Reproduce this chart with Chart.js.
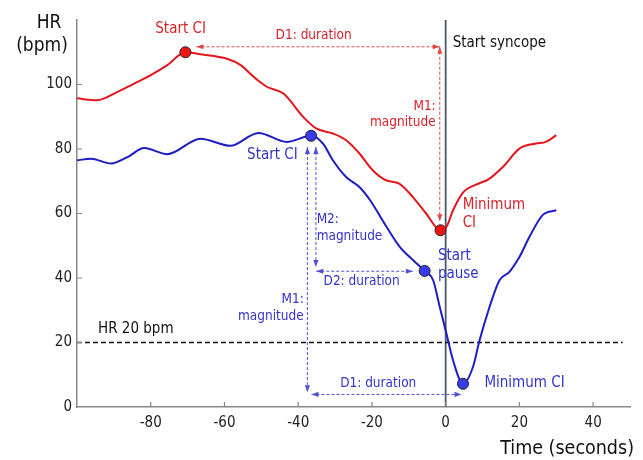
<!DOCTYPE html>
<html>
<head>
<meta charset="utf-8">
<script src="https://cdn.jsdelivr.net/npm/chart.js@4.4.1/dist/chart.umd.min.js"></script>
<style>
html, body { margin: 0; padding: 0; background: #fff; }
#wrap { width: 643px; height: 460px; position: relative; }
</style>
</head>
<body>
<div id="wrap"><canvas id="hrChart"></canvas></div>
<script>
/* DATA */
const redX = [-100, -94.6, -89, -84.5, -80, -75.5, -70.6, -66.5, -59.3, -55.6, -52.1, -48.5, -44, -38.6, -35, -30.6, -27, -23.4, -19.8, -16.2, -12.6, -8.9, -5.3, -1.4, 0.2, 2, 4.7, 9, 11.5, 15.5, 20, 24.5, 27.2, 30];
const redY = [95.7, 95.1, 97.7, 100.3, 102.9, 106, 110, 109.4, 108, 106, 102.4, 99.3, 97.2, 89.9, 86.3, 84.8, 82.7, 78.6, 73.4, 70.3, 69.3, 65.1, 60, 54.8, 55.8, 61, 66.5, 69.3, 70.5, 74.4, 80.1, 81.7, 82.2, 84.3];
const blueX = [-100, -96.2, -90.8, -86.3, -81.8, -75.5, -66.5, -58.4, -50.8, -43.1, -36.5, -33.3, -30.6, -27, -23.4, -20.5, -16, -12.4, -8.8, -5.7, -3.4, -1.6, 0.2, 2, 4.7, 7.4, 9.2, 11.9, 14.6, 17.3, 20, 22.7, 26.3, 30];
const blueY = [76.5, 77, 75.5, 77.5, 80.3, 78.4, 83.2, 81, 85, 82.2, 84.1, 81.7, 76.5, 71.3, 68.2, 64.1, 55.8, 49.6, 45.5, 42.2, 39.3, 31, 22.8, 14.5, 7.2, 12.4, 20.7, 31, 39.3, 41.9, 46.5, 52.7, 59.5, 61];

const redMarkX = [-70.6, -1.4];
const redMarkY = [110, 54.8];
const blueMarkX = [-36.5, -5.7, 4.7];
const blueMarkY = [84.1, 42.2, 7.2];

const xTicks = [-80, -60, -40, -20, 0, 20, 40];
const yTicks = [0, 20, 40, 60, 80, 100];
const thresholdY = 20;
const thresholdX = [-100, 48];
const syncopeX = 0;

/* STYLE */
const FONT = '"DejaVu Sans Condensed", "DejaVu Sans", sans-serif';
const RED = "#e3161d";
const BLUE = "#1d1dc2";
const RED_TXT = "#d8232a";
const BLUE_TXT = "#3535c9";
const RED_DASH = "#e04848";
const BLUE_DASH = "#5050d6";

/* ANNOTATIONS (data units) */
const arrows = [
    { c: RED_DASH, x: [-67.6, -1.6], y: [111.7, 111.7] },
    { c: RED_DASH, x: [-1.6, -1.6], y: [111.7, 57.6] },
    { c: BLUE_DASH, x: [-37.5, -37.5], y: [80.6, 4.6] },
    { c: BLUE_DASH, x: [-35.2, -35.2], y: [80.6, 43.4] },
    { c: BLUE_DASH, x: [-35.1, -8.9], y: [42.1, 42.1] },
    { c: BLUE_DASH, x: [-36.4, 4.3], y: [3.9, 3.9] }
];

const notes = [
    { t: "Start CI", x: -71.9, y: 117.2, c: RED_TXT, a: "center", s: 15 },
    { t: "D1: duration", x: -35.8, y: 115.3, c: RED_TXT, a: "center", s: 13.5 },
    { t: "M1:", x: -2.7, y: 93.3, c: RED_TXT, a: "right", s: 13.5 },
    { t: "magnitude", x: -2.7, y: 88.2, c: RED_TXT, a: "right", s: 13.5 },
    { t: "Start syncope", x: 1.9, y: 112.7, c: "#111", a: "left", s: 15 },
    { t: "Minimum", x: 4.6, y: 62.6, c: RED_TXT, a: "left", s: 15 },
    { t: "CI", x: 4.6, y: 57.1, c: RED_TXT, a: "left", s: 15 },
    { t: "Start CI", x: -47, y: 78.1, c: BLUE_TXT, a: "center", s: 15 },
    { t: "M2:", x: -35, y: 58, c: BLUE_TXT, a: "left", s: 13.5 },
    { t: "magnitude", x: -35, y: 52.9, c: BLUE_TXT, a: "left", s: 13.5 },
    { t: "D2: duration", x: -22.8, y: 38.8, c: BLUE_TXT, a: "center", s: 13.5 },
    { t: "Start", x: -2.1, y: 46.8, c: BLUE_TXT, a: "left", s: 15 },
    { t: "pause", x: -2.1, y: 41.1, c: BLUE_TXT, a: "left", s: 15 },
    { t: "M1:", x: -38.5, y: 33.2, c: BLUE_TXT, a: "right", s: 13.5 },
    { t: "magnitude", x: -38.5, y: 28.2, c: BLUE_TXT, a: "right", s: 13.5 },
    { t: "D1: duration", x: -18.3, y: 7.4, c: BLUE_TXT, a: "center", s: 13.5 },
    { t: "Minimum CI", x: 10.5, y: 7.3, c: BLUE_TXT, a: "left", s: 15 },
    { t: "HR 20 bpm", x: -94.3, y: 24, c: "#111", a: "left", s: 15 }
];

const pts = (xs, ys) => xs.map((x, i) => ({ x, y: ys[i] }));

Chart.defaults.font.family = FONT;
Chart.defaults.color = "#222";

/* PLUGIN: inner ticks, arrowheads, notes, axis titles */
const decor = {
    id: "decor",
    afterDatasetsDraw(chart) {
        const { ctx, scales: { x, y } } = chart;
        ctx.save();

        // inner tick marks
        ctx.strokeStyle = "#888";
        ctx.lineWidth = 1.2;
        ctx.beginPath();
        xTicks.forEach(v => {
            const px = x.getPixelForValue(v);
            ctx.moveTo(px, y.bottom);
            ctx.lineTo(px, y.bottom - 5);
        });
        yTicks.slice(1).forEach(v => {
            const py = y.getPixelForValue(v);
            ctx.moveTo(x.left, py);
            ctx.lineTo(x.left + 5, py);
        });
        ctx.stroke();

        // arrow heads at both ends
        arrows.forEach(a => {
            const x0 = x.getPixelForValue(a.x[0]), y0 = y.getPixelForValue(a.y[0]);
            const x1 = x.getPixelForValue(a.x[1]), y1 = y.getPixelForValue(a.y[1]);
            ctx.fillStyle = a.c;
            [[x0, y0, x1, y1], [x1, y1, x0, y0]].forEach(([tx, ty, fx, fy]) => {
                const ang = Math.atan2(ty - fy, tx - fx);
                ctx.beginPath();
                ctx.moveTo(tx, ty);
                ctx.lineTo(tx - 7 * Math.cos(ang) + 2.6 * Math.sin(ang), ty - 7 * Math.sin(ang) - 2.6 * Math.cos(ang));
                ctx.lineTo(tx - 7 * Math.cos(ang) - 2.6 * Math.sin(ang), ty - 7 * Math.sin(ang) + 2.6 * Math.cos(ang));
                ctx.closePath();
                ctx.fill();
            });
        });

        // annotation texts
        ctx.textBaseline = "middle";
        notes.forEach(n => {
            ctx.font = `${n.s}px ${FONT}`;
            ctx.fillStyle = n.c;
            ctx.textAlign = n.a;
            ctx.fillText(n.t, x.getPixelForValue(n.x), y.getPixelForValue(n.y));
        });

        // axis titles
        ctx.fillStyle = "#111";
        ctx.font = `19px ${FONT}`;
        ctx.textAlign = "center";
        ctx.fillText("HR", 49, 23);
        ctx.fillText("(bpm)", 42, 46);
        ctx.font = `19.5px ${FONT}`;
        ctx.textAlign = "right";
        ctx.fillText("Time (seconds)", 634, 449);

        ctx.restore();
    }
};

const markerStyle = (fill) => ({
    type: "line",
    showLine: false,
    pointRadius: 5.5,
    pointBackgroundColor: fill,
    pointBorderColor: "#222",
    pointBorderWidth: 1,
    order: 0
});

/* CHART */
new Chart(document.getElementById("hrChart"), {
    type: "line",
    data: {
        datasets: [
            { data: pts(redX, redY), borderColor: RED, borderWidth: 2, pointRadius: 0, cubicInterpolationMode: "monotone", order: 1 },
            { data: pts(blueX, blueY), borderColor: BLUE, borderWidth: 2, pointRadius: 0, cubicInterpolationMode: "monotone", order: 1 },
            { ...markerStyle("#f01414"), data: pts(redMarkX, redMarkY) },
            { ...markerStyle("#3a3aee"), data: pts(blueMarkX, blueMarkY) },
            {
                data: pts(thresholdX, [thresholdY, thresholdY]),
                borderColor: "#111", borderWidth: 1.3, borderDash: [5, 3], pointRadius: 0, order: 3
            },
            {
                data: pts([syncopeX, syncopeX], [0, 120]),
                borderColor: "#4a5a68", borderWidth: 1.8, pointRadius: 0, order: 3
            },
            ...arrows.map(a => ({
                data: pts(a.x, a.y),
                borderColor: a.c, borderWidth: 1, borderDash: [3, 2], pointRadius: 0, order: 2
            }))
        ]
    },
    options: {
        responsive: true,
        maintainAspectRatio: false,
        animation: false,
        layout: { padding: { left: 0, right: 13, top: 20, bottom: 0 } },
        plugins: { legend: { display: false }, tooltip: { enabled: false } },
        scales: {
            x: {
                type: "linear",
                min: -100,
                max: 50,
                grid: { display: false, drawTicks: false },
                border: { display: true, color: "#888", width: 1.5 },
                ticks: {
                    stepSize: 20,
                    padding: 7,
                    font: { size: 15 },
                    color: "#222",
                    callback: v => xTicks.includes(v) ? v : null
                },
                afterFit: s => { s.height = 53; }
            },
            y: {
                min: 0,
                max: 120,
                grid: { display: false, drawTicks: false },
                border: { display: true, color: "#888", width: 1.5 },
                ticks: {
                    stepSize: 20,
                    padding: 5,
                    font: { size: 15 },
                    color: "#222",
                    callback: v => yTicks.includes(v) ? v : null
                },
                afterFit: s => { s.width = 77; }
            }
        }
    },
    plugins: [decor]
});
</script>
</body>
</html>
